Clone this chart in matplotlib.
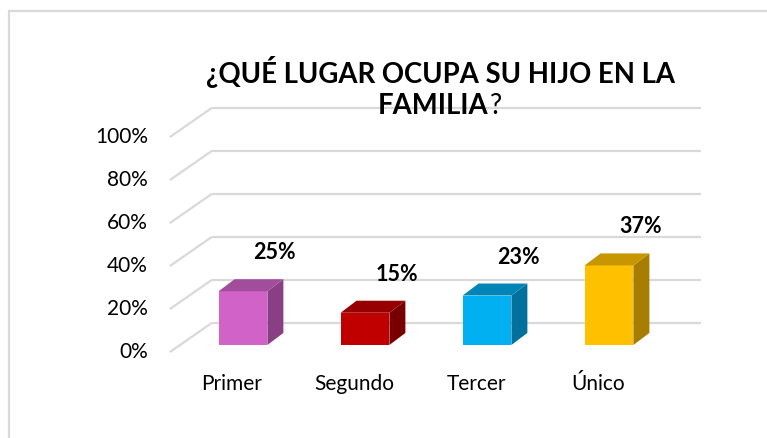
import matplotlib
matplotlib.use("Agg")
import matplotlib.pyplot as plt
from matplotlib.patches import Polygon, Rectangle
import numpy as np

categories = ["Primer", "Segundo", "Tercer", "Único"]
values = [25, 15, 23, 37]
value_labels = ["25%", "15%", "23%", "37%"]
tick_values = [0, 20, 40, 60, 80, 100]
tick_labels = ["0%", "20%", "40%", "60%", "80%", "100%"]
front_colors = ["#d062c8", "#c00000", "#00b0f0", "#ffc000"]
side_colors = ["#8a3f84", "#780000", "#00719c", "#a67d00"]
top_colors = ["#a24d9b", "#960000", "#0085b6", "#c79600"]
title_line1 = "¿QUÉ LUGAR OCUPA SU HIJO EN LA"
title_line2 = "FAMILIA"

W, H = 767, 438
fig = plt.figure(figsize=(W / 100, H / 100), dpi=100)
plt.rcParams['font.family'] = ['Lato', 'DejaVu Sans']

# axes: x in category units, y in percent (front plane of bars)
px0, py0 = 243.0, 345.0      # pixel of category 0, value 0
sx, sy = 122.0, 2.15         # pixels per unit
xlim = (-1.5, 4.0)
ylim = (-25, 140)
left = px0 + sx * xlim[0]
right = px0 + sx * xlim[1]
bottom_px = py0 - sy * ylim[0]
top_px = py0 - sy * ylim[1]
ax = fig.add_axes([left / W, 1 - bottom_px / H, (right - left) / W, (bottom_px - top_px) / H])
ax.set_xlim(*xlim)
ax.set_ylim(*ylim)
ax.axis("off")

# wall geometry (in data units)
wall_front_x = -0.60
wall_dx, wall_dy = 0.345, 13.6
wall_off = -3.3
wall_right = 3.75
grid_col = "#d9d9d9"
for v, lab in zip(tick_values, tick_labels):
    yf = v + wall_off
    ax.plot([wall_front_x, wall_front_x + wall_dx], [yf, yf + wall_dy],
            color=grid_col, lw=1.6, solid_capstyle="butt", zorder=1)
    ax.plot([wall_front_x + wall_dx, wall_right], [yf + wall_dy, yf + wall_dy],
            color=grid_col, lw=1.6, solid_capstyle="butt", zorder=1)
    ax.text(wall_front_x - 0.18, yf, lab, ha="right", va="center",
            fontsize=15, color="#000000")

# bars
bw = 0.40
ddx, ddy = 0.131, 5.6
xs = np.arange(len(categories))
ax.bar(xs, values, width=bw, color=front_colors, zorder=3, linewidth=0)
for i, v in enumerate(values):
    x0, x1 = i - bw / 2, i + bw / 2
    side = [(x1, 0), (x1 + ddx, ddy), (x1 + ddx, v + ddy), (x1, v)]
    top = [(x0, v), (x0 + ddx, v + ddy), (x1 + ddx, v + ddy), (x1, v)]
    ax.add_patch(Polygon(side, closed=True, facecolor=side_colors[i], edgecolor="none", zorder=3))
    ax.add_patch(Polygon(top, closed=True, facecolor=top_colors[i], edgecolor="none", zorder=3))
    ax.text(i + 0.26, v + 17.9, value_labels[i], ha="center", va="center",
            fontsize=15.5, fontweight="bold", color="#000000")
    ax.text(i - 0.09, -18.3, categories[i], ha="center", va="center",
            fontsize=15, color="#000000")

# title
fig.text(440 / W, 1 - 72 / H, title_line1, ha="center", va="center",
         fontsize=19.8, fontweight="bold", color="#000000")
t2 = fig.text(433 / W, 1 - 106 / H, title_line2, ha="center", va="center",
              fontsize=19.8, fontweight="bold", color="#000000")
ax.annotate("?", xy=(1, 0.5), xycoords=t2, xytext=(1, 0), textcoords="offset points",
            ha="left", va="center", fontsize=19.8, color="#000000", annotation_clip=False)

# chart border (left and top edges visible)
fig.patches.append(Rectangle((9 / W, -0.1), 1.2, 1 - 11 / H + 0.1, transform=fig.transFigure,
                             fill=False, edgecolor="#d9d9d9", lw=1.6, figure=fig))

fig.savefig("out.png", dpi=100)
